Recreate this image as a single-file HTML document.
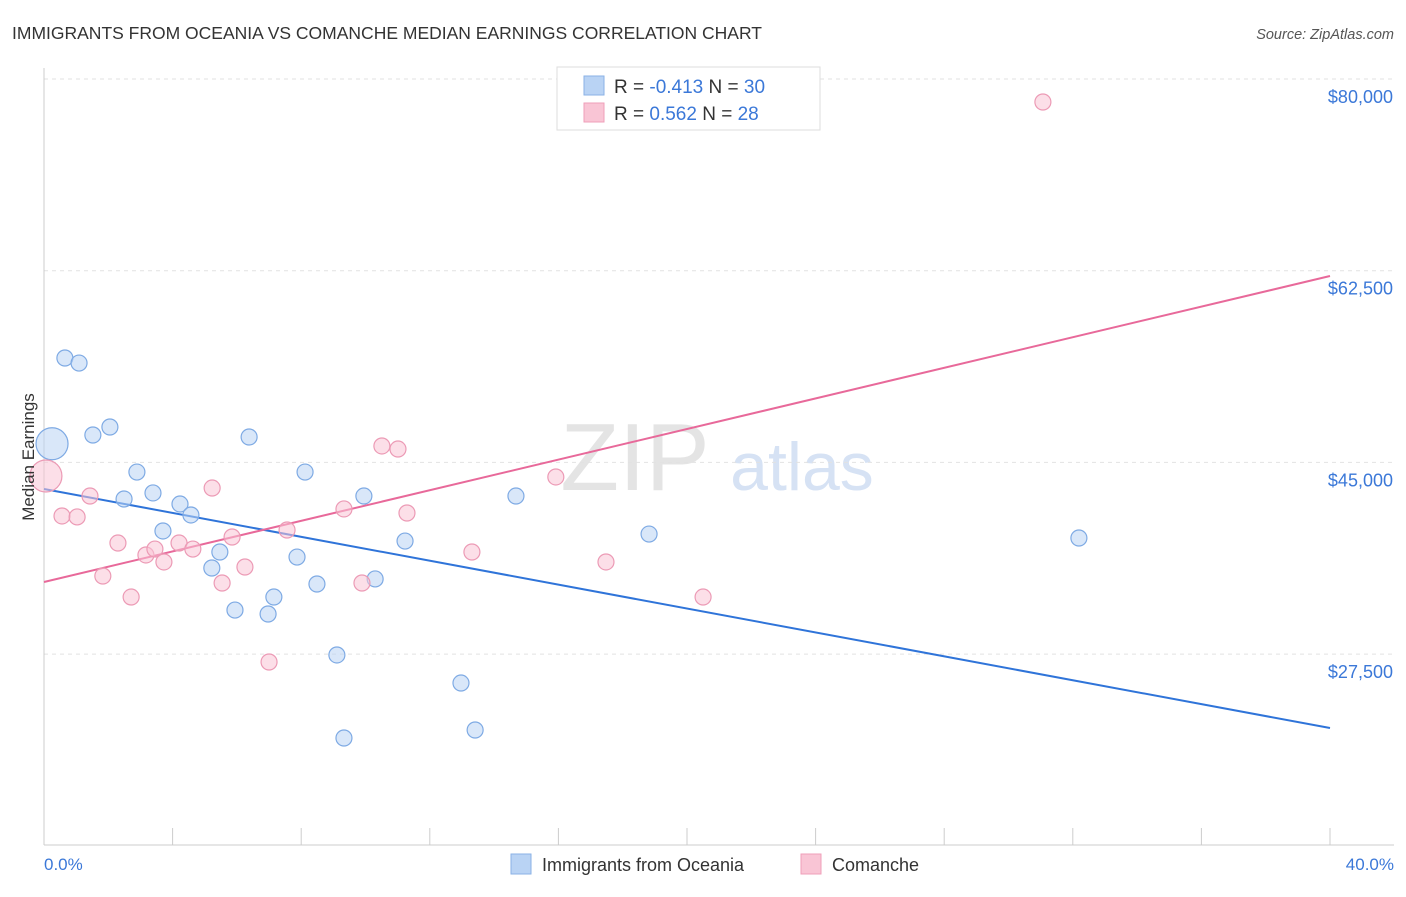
<!DOCTYPE html>
<html><head><meta charset="utf-8"><style>
body{margin:0;background:#fff;font-family:"Liberation Sans",sans-serif}
svg text{font-family:"Liberation Sans",sans-serif}
</style></head><body>
<svg id="chart" width="1406" height="892" viewBox="0 0 1406 892" xmlns="http://www.w3.org/2000/svg">
<text x="12" y="39" font-size="17.5" fill="#333">IMMIGRANTS FROM OCEANIA VS COMANCHE MEDIAN EARNINGS CORRELATION CHART</text>
<text x="1394" y="39" font-size="14.5" fill="#555" font-style="italic" text-anchor="end">Source: ZipAtlas.com</text>
<g>
<text x="635" y="490" font-size="96" fill="#e4e4e4" text-anchor="middle" font-family="Liberation Serif">ZIP</text>
<text x="802" y="490" font-size="68" fill="#d6e2f4" text-anchor="middle">atlas</text>
</g>
<g id="grid"></g>
<g id="axes"></g>
<g id="lines"></g>
<g id="points"></g>
<text transform="translate(34,457) rotate(-90)" font-size="17" fill="#333" text-anchor="middle">Median Earnings</text>
<text x="44" y="870" font-size="17" fill="#3b78d8">0.0%</text>
<text x="1394" y="870" font-size="17" fill="#3b78d8" text-anchor="end">40.0%</text>
<g>
<rect x="557" y="67" width="263" height="63" fill="#fff" stroke="#ddd"/>
<rect x="584" y="76" width="20" height="19" fill="#b9d3f4" stroke="#8ab2e6"/>
<rect x="584" y="103" width="20" height="19" fill="#f9c5d5" stroke="#ef9fb9"/>
<text x="614" y="93" font-size="19" fill="#333">R = <tspan fill="#3b78d8">-0.413</tspan>   N = <tspan fill="#3b78d8">30</tspan></text>
<text x="614" y="120" font-size="19" fill="#333">R =  <tspan fill="#3b78d8">0.562</tspan>   N = <tspan fill="#3b78d8">28</tspan></text>
</g>
<g>
<rect x="511" y="854" width="20" height="20" fill="#b9d3f4" stroke="#8ab2e6"/>
<text x="542" y="871" font-size="18" fill="#333">Immigrants from Oceania</text>
<rect x="801" y="854" width="20" height="20" fill="#f9c5d5" stroke="#ef9fb9"/>
<text x="832" y="871" font-size="18" fill="#333">Comanche</text>
</g>
</svg>
<script>
const yTicks=[80000,62500,45000,27500];
const yTickLabels=["$80,000","$62,500","$45,000","$27,500"];
const xTicks=[0,4,8,12,16,20,24,28,32,36,40];
const blueX=[0.25,0.65,1.09,1.52,2.05,2.89,2.49,3.39,4.23,3.70,4.57,5.22,5.47,5.94,6.38,6.97,7.15,7.87,8.12,8.49,9.11,9.33,9.95,10.30,11.23,12.97,13.41,14.68,18.82,32.19];
const blueY=[46700,54530,54070,47500,48230,44120,41660,42210,41200,38740,40200,35360,36820,31520,47320,31160,32710,36360,44120,33900,27420,19840,41930,34360,37820,24860,20570,41930,38460,38100];
const pinkX=[0.06,0.56,1.03,1.43,1.83,2.30,2.71,3.17,3.45,3.73,4.20,4.63,5.23,5.54,5.85,6.25,7.00,7.56,9.33,9.89,10.51,11.01,11.29,13.31,15.92,17.48,20.50,31.07];
const pinkY=[43760,40110,40020,41930,34630,37640,32710,36550,37090,35910,37640,37090,42660,33990,38190,35450,26780,38830,40750,33990,46500,46220,40380,36820,43670,35910,32710,77900];
const blueTrend=[42570,20750];
const pinkTrend=[34080,62015];
const NS="http://www.w3.org/2000/svg";
const xs=v=>44+v/40*1286;
const ys=v=>79+(80000-v)/17500*191.7;
function mk(tag,attrs,parent){const e=document.createElementNS(NS,tag);for(const k in attrs)e.setAttribute(k,attrs[k]);document.getElementById(parent).appendChild(e);return e;}
yTicks.forEach((t,i)=>{
 const g=mk('line',{x1:44,x2:1394,y1:ys(t),y2:ys(t),stroke:'#e2e2e2','stroke-dasharray':'4,4'},'grid');
 
 
 const l=mk('text',{x:1393,y:ys(t)+24,'font-size':18,fill:'#3b78d8','text-anchor':'end'},'axes');
 l.textContent=yTickLabels[i];
 
 
});
const ax=mk('line',{x1:44,x2:44,y1:68,y2:845,stroke:'#ccc'},'axes');


const bx=mk('line',{x1:44,x2:1394,y1:845,y2:845,stroke:'#ccc'},'axes');


xTicks.forEach(t=>{
 const e=mk('line',{x1:xs(t),x2:xs(t),y1:828,y2:845,stroke:'#ccc'},'axes');
 
 
});
function pts(X,Y,fill,stroke,name){
 X.forEach((x,i)=>{
  const r=(i===0)?16:8;
  const c=mk('circle',{cx:xs(x),cy:ys(Y[i]),r:r,fill:fill,'fill-opacity':0.55,stroke:stroke,'stroke-width':1.2},'points');
  
  
 });
}
pts(blueX,blueY,'#b9d3f4','#7eaae4','point-oceania');
pts(pinkX,pinkY,'#f9c5d5','#ec9ab5','point-comanche');
const bl=mk('line',{x1:xs(0),y1:ys(blueTrend[0]),x2:xs(40),y2:ys(blueTrend[1]),stroke:'#2f74d9','stroke-width':2},'lines');


const pl=mk('line',{x1:xs(0),y1:ys(pinkTrend[0]),x2:xs(40),y2:ys(pinkTrend[1]),stroke:'#e8699a','stroke-width':2},'lines');


</script>
</body></html>
